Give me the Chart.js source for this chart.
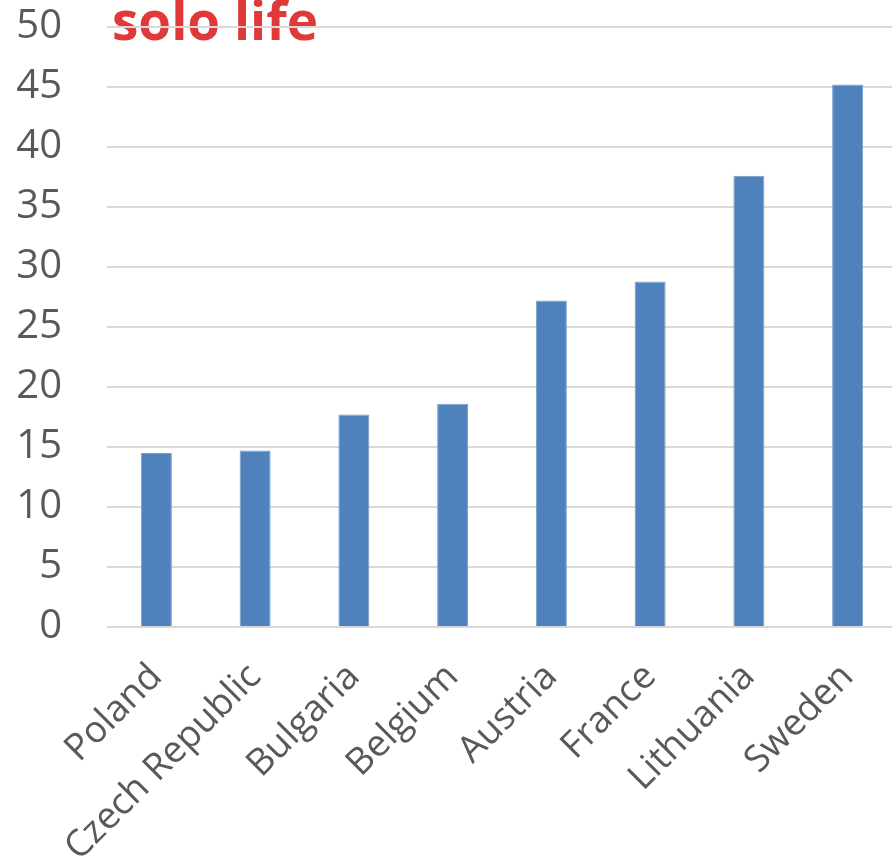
<!DOCTYPE html>
<html>
<head>
<meta charset="utf-8">
<style>
  html, body { margin: 0; padding: 0; background: #ffffff; overflow: hidden; }
  #wrap { width: 897px; height: 862px; position: relative; }
</style>
<script src="https://cdn.jsdelivr.net/npm/chart.js@4/dist/chart.umd.min.js"></script>
</head>
<body>
<div id="wrap"><canvas id="chart"></canvas></div>
<script>
// Share of people living alone, by country
const countries = ["Poland", "Czech Republic", "Bulgaria", "Belgium", "Austria", "France", "Lithuania", "Sweden"];
const shares = [14.5, 14.7, 17.7, 18.6, 27.2, 28.8, 37.6, 45.2];
const yTicks = [0, 5, 10, 15, 20, 25, 30, 35, 40, 45, 50];
const headline = "solo life";

const FONT = "'Open Sans', 'Liberation Sans', sans-serif";

// Red headline painted inside the plot area, under the grid lines
const headlinePlugin = {
  id: "headline",
  beforeDraw(chart) {
    const ctx = chart.ctx;
    ctx.save();
    ctx.fillStyle = "#E0393A";
    ctx.font = "bold 53px " + FONT;
    ctx.textAlign = "left";
    ctx.textBaseline = "alphabetic";
    ctx.fillText(headline, chart.chartArea.left + 5, 40);
    ctx.restore();
  }
};

new Chart(document.getElementById("chart"), {
  type: "bar",
  data: {
    labels: countries,
    datasets: [{
      data: shares,
      backgroundColor: "#4F81BD",
      borderColor: "#7A9FCC",
      borderWidth: 1,
      categoryPercentage: 1,
      barPercentage: 0.314
    }]
  },
  options: {
    responsive: true,
    maintainAspectRatio: false,
    animation: false,
    layout: { padding: { top: 27, left: 0, right: 0, bottom: 0 } },
    plugins: {
      legend: { display: false },
      tooltip: { enabled: false },
      title: { display: false }
    },
    scales: {
      x: {
        grid: { display: false, drawTicks: false },
        border: { display: false },
        ticks: {
          color: "#595959",
          font: { family: FONT, size: 37 },
          minRotation: 45,
          maxRotation: 45,
          padding: 28,
          autoSkip: false
        },
        afterFit(scale) {
          scale.height = 235;
          scale.paddingLeft = 0;
          scale.paddingRight = 0;
        }
      },
      y: {
        min: 0,
        max: 50,
        afterBuildTicks(scale) {
          scale.ticks = yTicks.map(v => ({ value: v }));
        },
        grid: { color: "#D9D9D9", lineWidth: 2, drawTicks: false },
        border: { display: false },
        ticks: {
          color: "#595959",
          font: { family: FONT, size: 40 },
          padding: 45
        },
        afterFit(scale) {
          scale.width = 107;
          scale.paddingTop = 0;
          scale.paddingBottom = 0;
        }
      }
    }
  },
  plugins: [headlinePlugin]
});
</script>
</body>
</html>
